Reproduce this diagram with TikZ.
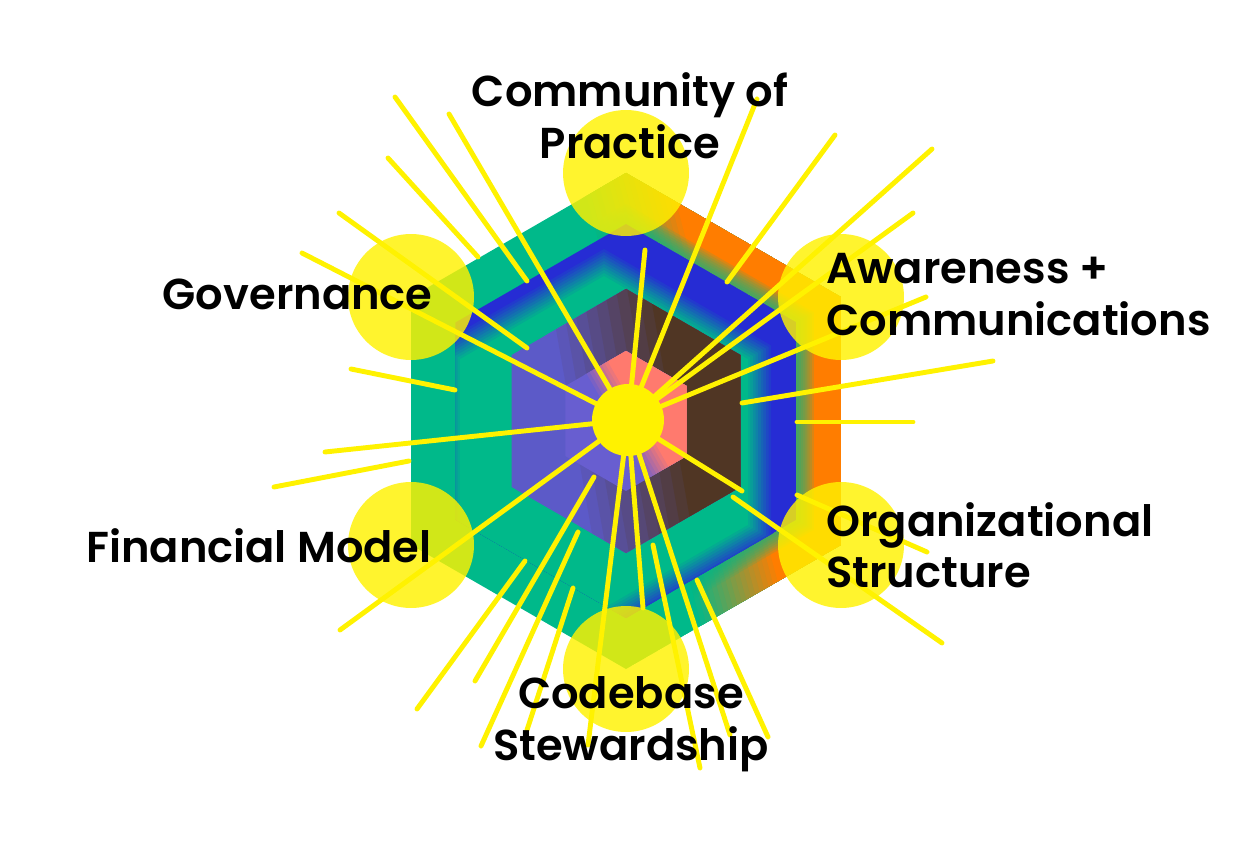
\documentclass[tikz,border=0pt]{standalone}
\usepackage{fontspec}
\setmainfont{Poppins}[BoldFont={Poppins SemiBold}]

\definecolor{hexGreen}{RGB}{0,185,138}
\definecolor{hexOrange}{RGB}{255,125,0}
\definecolor{hexBlue}{RGB}{38,44,212}
\definecolor{hexPurple}{RGB}{92,90,200}
\definecolor{hexBrown}{RGB}{80,54,36}
\definecolor{corePurple}{RGB}{104,94,208}
\definecolor{coreSalmon}{RGB}{255,122,110}
\definecolor{rayYellow}{RGB}{255,242,0}

\newcommand{\hexpath}[3]{(#1,#2) +(90:#3) -- +(150:#3) -- +(210:#3) -- +(270:#3) -- +(330:#3) -- +(30:#3) -- cycle}

\begin{document}
\begin{tikzpicture}
[x=0.02cm, y=-0.02cm,
  spotDecorate/.style={shape=circle,inner sep=0pt,minimum size=2.52cm,fill=rayYellow,fill opacity=0.82},
  rayDecorate/.style={draw=rayYellow,line width=2.8pt,line cap=round},
  labelDecorate/.style={inner sep=0pt,font=\fontsize{24.6}{30}\selectfont\bfseries}]
\useasboundingbox (0,0) rectangle (1251,841);
%% outer hexagon, green into orange
\begin{scope}
  \clip \hexpath{626}{421}{248};
  \fill[hexGreen] \hexpath{626}{421}{248};
  \begin{scope}[shift={(626,421)},rotate=15]
    \foreach \k in {0,...,18}
    {
      \pgfmathtruncatemacro\mixval{100*\k/18}
      \fill[hexOrange!\mixval!hexGreen] (15+5*\k,-300) rectangle (300,300);
    }
  \end{scope}
\end{scope}
%% green glow round the middle hexagon
\foreach \k in {1,...,8}
{
  \fill[hexGreen,fill opacity=0.14] \hexpath{626}{421}{197+2.5*\k};
}
%% middle hexagon, blue with a green core
\begin{scope}
  \clip \hexpath{626}{421}{197};
  \fill[hexBlue] \hexpath{626}{421}{197};
  \foreach \k in {0,...,10}
  {
    \pgfmathtruncatemacro\mixval{10*\k}
    \fill[hexGreen!\mixval!hexBlue] \hexpath{604}{442}{196-3*\k};
  }
\end{scope}
%% inner hexagon, purple into brown
\begin{scope}
  \clip \hexpath{626}{421}{132};
  \fill[hexPurple] \hexpath{626}{421}{132};
  \begin{scope}[shift={(626,421)},rotate=10]
    \foreach \k in {0,...,10}
    {
      \pgfmathtruncatemacro\mixval{10*\k}
      \fill[hexBrown!\mixval!hexPurple] (-64+11*\k,-200) rectangle (200,200);
    }
  \end{scope}
\end{scope}
%% core hexagon, purple into salmon
\begin{scope}
  \clip \hexpath{626}{421}{70};
  \fill[corePurple] \hexpath{626}{421}{70};
  \begin{scope}[shift={(626,421)},rotate=30]
    \foreach \k in {0,...,8}
    {
      \pgfmathtruncatemacro\mixval{12.5*\k}
      \fill[coreSalmon!\mixval!corePurple] (-14+3.5*\k,-100) rectangle (100,100);
    }
  \end{scope}
\end{scope}
%% circles on the corners
\foreach \nodename/\x/\y in {spotTop/626/173, spotUpRight/841/297, spotDownRight/841/545,
  spotBottom/626/669, spotDownLeft/411/545, spotUpLeft/411/297}
{
  \node (\nodename) at (\x,\y) [spotDecorate] {};
}
%% rays from the hub
\coordinate (hub) at (628,420);
\foreach \x/\y in {449/114, 302/253, 325/452, 340/630, 588/745, 757/99, 932/149, 913/213,
  926/297, 645/250, 742/491, 643/608, 730/735}
{
  \draw[rayDecorate] (hub) -- (\x,\y);
}
%% loose rays
\foreach \xa/\ya/\xb/\yb in {395/97/527/281, 388/158/478/257, 339/213/527/348, 351/369/455/390,
  274/487/409/461, 417/709/525/561, 475/681/594/477, 481/746/578/532, 527/730/573/588,
  835/135/727/282, 993/361/742/403, 913/422/797/422, 942/643/733/497, 927/552/797/495,
  700/768/653/545, 768/737/697/580}
{
  \draw[rayDecorate] (\xa,\ya) -- (\xb,\yb);
}
\node (hubSpot) at (hub) [shape=circle,inner sep=0pt,minimum size=1.44cm,fill=rayYellow] {};
%% labels
\foreach \nodename/\x/\y/\anchorname/\labeltext in {copA/630/107/base/Community of,
  copB/630/159/base/Practice, gov/433/310/base east/Governance, fin/432/562/base east/Financial Model,
  awaA/826/284/base west/Awareness +, awaB/826/336/base west/Communications,
  orgA/826/536/base west/Organizational, orgB/826/587/base west/Structure,
  codA/631/708/base/Codebase, codB/631/760/base/Stewardship}
{
  \node (\nodename) at (\x,\y) [labelDecorate,anchor=\anchorname] {\labeltext};
}
\end{tikzpicture}
\end{document}
